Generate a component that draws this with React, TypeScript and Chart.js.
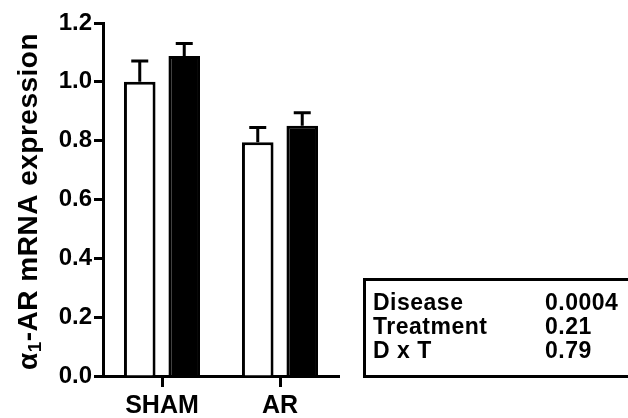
import React, { useEffect, useRef } from 'react';
import { Chart, registerables } from 'chart.js';

Chart.register(...registerables);

const categories = ['SHAM', 'AR'];
const controlMeans = [1.0, 0.795];
const controlErrors = [0.071, 0.05];
const treatedMeans = [1.088, 0.851];
const treatedErrors = [0.042, 0.044];
const yMin = 0;
const yMax = 1.2;
const yStep = 0.2;
const statLabels = ['Disease', 'Treatment', 'D x T'];
const statValues = ['0.0004', '0.21', '0.79'];
const yTitleMain = 'α';
const yTitleSub = '1';
const yTitleRest = '-AR mRNA expression';

const FONT = '"Liberation Sans", Arial, Helvetica, sans-serif';

const errorBarPlugin = {
  id: 'errorBars',
  afterDatasetsDraw(chart: any) {
    const ctx = chart.ctx;
    const y = chart.scales.y;
    const errs = [controlErrors, treatedErrors];
    chart.data.datasets.forEach((ds: any, di: number) => {
      const meta = chart.getDatasetMeta(di);
      meta.data.forEach((bar: any, i: number) => {
        const v = ds.data[i];
        const top = y.getPixelForValue(v + errs[di][i]);
        ctx.save();
        ctx.strokeStyle = '#000';
        ctx.lineWidth = 3;
        ctx.beginPath();
        ctx.moveTo(bar.x, bar.y);
        ctx.lineTo(bar.x, top);
        ctx.moveTo(bar.x - 8.5, top);
        ctx.lineTo(bar.x + 8.5, top);
        ctx.stroke();
        ctx.restore();
      });
    });
  },
};

const annotationPlugin = {
  id: 'annotations',
  afterDraw(chart: any) {
    const ctx = chart.ctx;
    ctx.save();
    ctx.fillStyle = '#000';
    ctx.strokeStyle = '#000';
    ctx.letterSpacing = '0.5px';
    // y-axis title
    ctx.save();
    ctx.translate(37, 370);
    ctx.rotate(-Math.PI / 2);
    ctx.textAlign = 'left';
    ctx.textBaseline = 'alphabetic';
    ctx.font = `bold 28px ${FONT}`;
    let x = 0;
    ctx.fillText(yTitleMain, x, 0);
    x += ctx.measureText(yTitleMain).width;
    ctx.font = `bold 19px ${FONT}`;
    ctx.fillText(yTitleSub, x, 4);
    x += ctx.measureText(yTitleSub).width;
    ctx.font = `bold 28px ${FONT}`;
    ctx.fillText(yTitleRest, x, 0);
    ctx.restore();
    // statistics box
    ctx.lineWidth = 3;
    ctx.strokeRect(364.5, 279.5, 300, 97);
    ctx.font = `bold 23px ${FONT}`;
    ctx.textAlign = 'left';
    ctx.textBaseline = 'alphabetic';
    statLabels.forEach((lbl, i) => {
      const by = 310 + i * 24;
      ctx.fillText(lbl, 373, by);
      ctx.fillText(statValues[i], 545, by);
    });
    ctx.restore();
  },
};

export default function App() {
  const ref = useRef<HTMLCanvasElement | null>(null);
  useEffect(() => {
    document.body.style.margin = '0';
    const canvas = ref.current!;
    const chart = new Chart(canvas, {
      type: 'bar',
      data: {
        labels: categories,
        datasets: [
          {
            label: 'Control',
            data: controlMeans,
            backgroundColor: '#ffffff',
            borderColor: '#000000',
            borderWidth: 3,
            categoryPercentage: 0.754,
            barPercentage: 0.71,
          },
          {
            label: 'Treated',
            data: treatedMeans,
            backgroundColor: '#000000',
            borderColor: '#000000',
            borderWidth: 3,
            categoryPercentage: 0.754,
            barPercentage: 0.71,
          },
        ],
      },
      options: {
        responsive: false,
        animation: false,
        devicePixelRatio: 1,
        layout: { padding: { top: 23, right: 289, bottom: 0, left: 0 } },
        plugins: {
          legend: { display: false },
          tooltip: { enabled: false },
          title: { display: false },
        },
        scales: {
          x: {
            grid: {
              offset: false,
              drawOnChartArea: false,
              drawTicks: true,
              tickLength: 11,
              tickWidth: 3,
              tickColor: '#000',
              color: '#000',
            },
            border: { display: true, color: '#000', width: 3 },
            ticks: {
              color: '#000',
              font: { family: FONT, size: 25, weight: 'bold' },
              padding: 4,
            },
            afterFit: (scale: any) => {
              scale.height = 42;
            },
          },
          y: {
            min: yMin,
            max: yMax,
            grid: {
              drawOnChartArea: false,
              drawTicks: true,
              tickLength: 9,
              tickWidth: 3,
              tickColor: '#000',
              color: '#000',
            },
            border: { display: true, color: '#000', width: 3 },
            ticks: {
              stepSize: yStep,
              color: '#000',
              font: { family: FONT, size: 24, weight: 'bold' },
              padding: 2,
              callback: (v: any) => Number(v).toFixed(1),
            },
            afterFit: (scale: any) => {
              scale.width = 103;
            },
          },
        },
      },
      plugins: [errorBarPlugin, annotationPlugin],
    });
    return () => chart.destroy();
  }, []);
  return (
    <div style={{ position: 'fixed', left: 0, top: 0, width: 628, height: 418, background: '#fff' }}>
      <canvas ref={ref} width={628} height={418} style={{ width: 628, height: 418, display: 'block' }} />
    </div>
  );
}
